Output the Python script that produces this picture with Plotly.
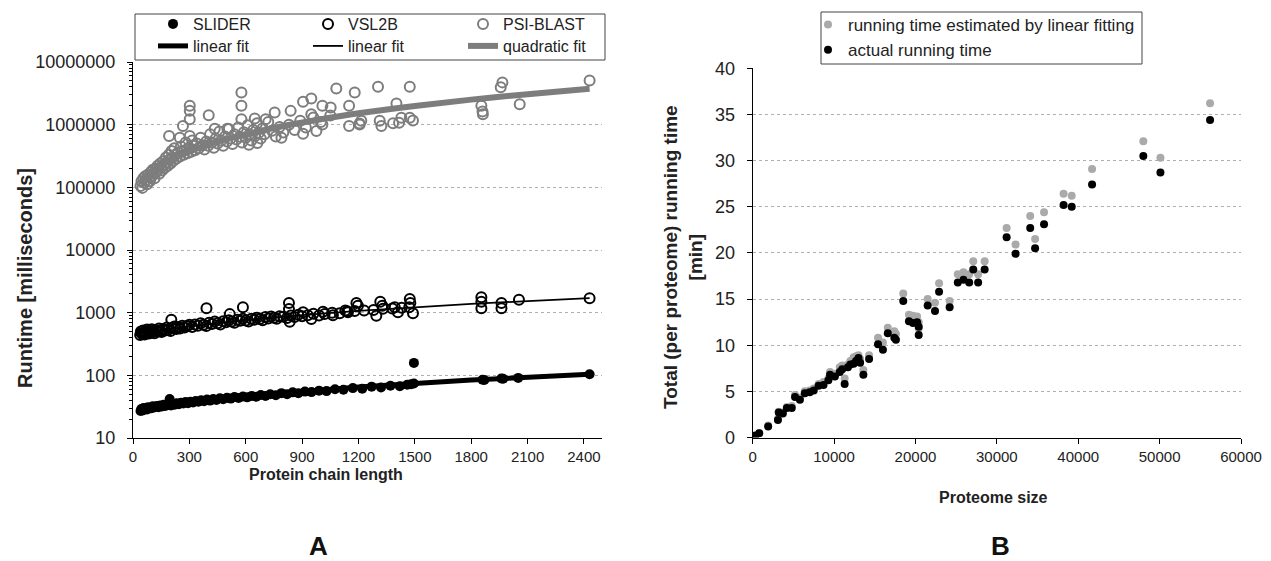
import plotly.graph_objects as go

# ---------------- Panel A data (protein chain length vs runtime in ms) ----------------
slider_pts = [(40,27),(44,29),(48,28),(52,27.5),(56,30),(60,28.5),(65,29),(70,30),(75,28.6),(80,31),
              (86,29.5),(92,30.5),(98,29.8),(105,32),(112,30.6),(120,31.5),(128,32.5),(136,31),(145,33),
              (154,31.8),(163,34),(172,32.5),(182,33.5),(192,34.5),(195,42),(202,33),(212,35),(222,34),
              (233,36),(244,34.5),(256,36.5),(268,35.5),(280,37.5),(293,36),(306,38),(320,37),(334,39),
              (348,37.8),(363,40),(378,38.5),(394,41),(410,39.5),(427,42),(444,40.5),(462,43),(480,41.5),
              (500,44),(520,42.5),(540,45),(562,43.5),(585,46),(608,44.5),(632,47),(656,45.5),(680,48.5),
              (705,47),(730,50),(760,48),(790,52),(820,50),(850,53.5),(880,52),(915,55),(950,54),(990,57),
              (1030,56),(1075,60),(1120,59),(1170,62.5),(1220,61),(1270,66),(1320,64),(1370,68),(1420,67),
              (1460,71),(1480,72),(1495,74),(1495,158),(1860,85),(1870,84),(1960,89),(1970,88),(2050,91),
              (2430,104)]

vsl2b_pts = [(38,440),(42,500),(46,470),(50,455),(54,520),(58,480),(62,450),(66,505),(70,470),(75,540),
             (80,490),(85,465),(90,515),(95,480),(100,545),(108,500),(115,470),(122,530),(130,505),(138,560),
             (145,510),(152,490),(160,550),(170,520),(180,580),(190,540),(200,510),(204,769),(210,570),
             (220,600),(230,550),(240,590),(250,560),(262,620),(275,580),(288,610),(300,640),(315,590),
             (330,650),(345,620),(360,680),(375,640),(390,610),(391,1172),(405,690),(420,660),(435,720),
             (450,680),(465,650),(480,730),(495,700),(510,760),(515,948),(525,720),(540,690),(555,770),
             (570,740),(585,800),(585,1217),(600,750),(615,720),(630,800),(645,770),(660,830),(675,790),
             (690,760),(705,850),(720,810),(735,870),(750,830),(765,800),(780,880),(800,860),(820,820),
             (830,1427),(830,1143),(834,714),(840,900),(860,850),(880,930),(900,880),(905,1012),(930,910),
             (949,789),(960,960),(990,900),(1011,1030),(1020,950),(1060,1000),(1064,912),(1100,980),
             (1130,1080),(1140,1050),(1144,1012),(1180,1060),(1189,1427),(1197,1291),(1230,1080),
             (1280,1100),(1295,891),(1316,1497),(1327,1291),(1330,1150),(1380,1170),(1393,1217),
             (1410,1012),(1430,1200),(1470,1220),(1473,1656),(1476,1427),(1490,975),(1854,1762),
             (1854,1497),(1854,1172),(1961,1427),(1961,1172),(2054,1611),(2430,1698)]

psiblast_pts = [(40,105000),(45,125000),(50,98000),(55,140000),(60,118000),(65,150000),(70,130000),
                (75,112000),(80,160000),(85,142000),(90,125000),(95,175000),(100,150000),(105,190000),
                (110,165000),(115,140000),(120,200000),(125,178000),(130,220000),(135,190000),(140,165000),
                (145,240000),(150,210000),(155,185000),(160,260000),(165,230000),(170,205000),(175,300000),
                (180,250000),(185,220000),(190,330000),(192,660000),(195,280000),(200,240000),(205,380000),
                (210,300000),(215,265000),(220,420000),(225,330000),(230,285000),(240,360000),(249,617000),
                (250,310000),(255,450000),(260,380000),(266,950000),(270,330000),(280,520000),(285,400000),
                (290,350000),(300,430000),(302,2000000),(302,1660000),(302,1220000),(302,660000),
                (310,370000),(315,560000),(320,460000),(330,390000),(340,500000),(350,420000),(360,620000),
                (370,470000),(380,400000),(390,540000),(400,460000),(403,1410000),(410,700000),(420,520000),
                (430,430000),(435,863000),(440,600000),(450,500000),(460,780000),(470,560000),(480,460000),
                (490,650000),(500,540000),(502,863000),(510,850000),(520,600000),(530,490000),(540,700000),
                (550,580000),(560,900000),(570,640000),(577,3270000),(577,2000000),(577,1220000),
                (580,520000),(590,760000),(600,620000),(610,980000),(617,480000),(620,700000),(630,560000),
                (640,820000),(648,1250000),(650,660000),(660,1050000),(662,510000),(670,740000),
                (680,600000),(690,880000),(700,700000),(706,1220000),(720,1100000),(740,800000),
                (754,1560000),(760,650000),(780,920000),(790,617000),(800,750000),(830,1000000),
                (839,1660000),(860,820000),(890,1150000),(905,2320000),(905,716000),(920,900000),
                (949,2620000),(949,1470000),(960,1300000),(976,794000),(1000,1100000),(1008,2000000),
                (1008,1010000),(1050,1400000),(1052,1880000),(1082,3790000),(1150,2000000),(1150,950000),
                (1180,3270000),(1206,1010000),(1206,1040000),(1215,1150000),(1304,4040000),(1313,1150000),
                (1322,950000),(1384,1050000),(1402,2180000),(1416,1070000),(1428,1290000),(1473,4040000),
                (1473,1290000),(1490,1170000),(1854,2000000),(1860,1620000),(1862,1470000),(1957,3940000),
                (1966,4730000),(2058,2120000),(2430,5050000)]

# fitted trend lines
slider_fit_x = [40, 600, 1200, 1800, 2430]
slider_fit_y = [28.3, 46.0, 64.9, 83.9, 103.8]
vsl2b_fit_x = [40, 300, 600, 900, 1200, 1500, 1800, 2100, 2430]
vsl2b_fit_y = [471, 605, 759, 914, 1068, 1223, 1377, 1532, 1701]
psi_fit_x = [40, 150, 300, 450, 600, 800, 1000, 1200, 1500, 1800, 2100, 2430]
psi_fit_y = [116000, 221000, 372000, 536000, 700000, 950000, 1220000, 1520000, 1990000, 2510000, 3070000, 3740000]

a_xticks = [0, 300, 600, 900, 1200, 1500, 1800, 2100, 2400]
a_yticks = [10, 100, 1000, 10000, 100000, 1000000, 10000000]
a_yticklabels = ["10", "100", "1000", "10000", "100000", "1000000", "10000000"]

# ---------------- Panel B data (proteome size vs total running time in min) ----------------
proteome_size = [300, 800, 1900, 3100, 3200, 3700, 4200, 4800, 5200, 5800, 6400, 7000, 7500, 8100, 8700,
                 9300, 9500, 10100, 10700, 11000, 11300, 11700, 12000, 12400, 12700, 13000, 13200, 13600,
                 14300, 15400, 16000, 16600, 17400, 17600, 18500, 19200, 19700, 20200, 20400, 20400, 21500,
                 22400, 22900, 24200, 25200, 25900, 26600, 27100, 27700, 28500, 31200, 32300, 34100, 34700,
                 35800, 38200, 39200, 41700, 48000, 50100, 56200]
estimated_time = [0.25, 0.5, 1.3, 2.0, 2.8, 2.7, 3.3, 3.4, 4.6, 4.3, 5.0, 5.1, 5.3, 5.8, 6.0,
                  6.4, 7.1, 6.9, 7.6, 7.8, 6.4, 7.9, 8.3, 8.7, 8.8, 8.9, 8.5, 7.3,
                  8.9, 10.8, 10.3, 11.9, 11.5, 11.2, 15.6, 13.3, 13.2, 13.1, 12.5, 11.8, 15.0,
                  14.6, 16.7, 14.8, 17.7, 17.9, 17.7, 19.1, 17.7, 19.1, 22.7, 20.9, 24.0, 21.5,
                  24.4, 26.4, 26.2, 29.1, 32.1, 30.3, 36.2]
actual_time = [0.2, 0.45, 1.2, 1.9, 2.7, 2.6, 3.2, 3.2, 4.4, 4.1, 4.8, 4.9, 5.1, 5.6, 5.7,
               6.2, 6.8, 6.6, 7.1, 7.4, 5.8, 7.6, 7.9, 8.0, 8.3, 8.6, 8.1, 6.8,
               8.5, 10.1, 9.5, 11.3, 10.8, 10.6, 14.8, 12.6, 12.4, 12.5, 12.0, 11.1, 14.3,
               13.7, 15.8, 14.1, 16.8, 17.1, 16.8, 18.2, 16.8, 18.2, 21.7, 19.9, 22.7, 20.5,
               23.1, 25.2, 25.0, 27.4, 30.5, 28.7, 34.4]

b_xticks = [0, 10000, 20000, 30000, 40000, 50000, 60000]
b_yticks = [0, 5, 10, 15, 20, 25, 30, 35, 40]

# ---------------- layout helpers ----------------
W, H = 1271, 561
def fx(p):
    return p / W
def fy(p):
    return 1 - p / H

FONT = "Liberation Sans, Arial, sans-serif"
PSI_GRAY = "#7d7d7d"
EST_GRAY = "#aaaaaa"
TXT = "#222222"

fig = go.Figure()

# Panel A scatter
fig.add_trace(go.Scatter(x=[p[0] for p in psiblast_pts], y=[p[1] for p in psiblast_pts], mode="markers",
                         name="PSI-BLAST", legend="legend", legendrank=3,
                         marker=dict(symbol="circle-open", size=10, color=PSI_GRAY, line=dict(width=2, color=PSI_GRAY)),
                         xaxis="x", yaxis="y"))
fig.add_trace(go.Scatter(x=psi_fit_x, y=psi_fit_y, mode="lines", name="quadratic fit", line_shape="spline",
                         legend="legend2", legendrank=3,
                         line=dict(color=PSI_GRAY, width=6), xaxis="x", yaxis="y"))
fig.add_trace(go.Scatter(x=[p[0] for p in vsl2b_pts], y=[p[1] for p in vsl2b_pts], mode="markers",
                         name="VSL2B", legend="legend", legendrank=2,
                         marker=dict(symbol="circle-open", size=10, color="black", line=dict(width=2, color="black")),
                         xaxis="x", yaxis="y"))
fig.add_trace(go.Scatter(x=vsl2b_fit_x, y=vsl2b_fit_y, mode="lines", name="linear fit",
                         legend="legend2", legendrank=2,
                         line=dict(color="black", width=1.8), xaxis="x", yaxis="y"))
fig.add_trace(go.Scatter(x=[p[0] for p in slider_pts], y=[p[1] for p in slider_pts], mode="markers",
                         name="SLIDER", legend="legend", legendrank=1,
                         marker=dict(symbol="circle", size=10, color="black"),
                         xaxis="x", yaxis="y"))
fig.add_trace(go.Scatter(x=slider_fit_x, y=slider_fit_y, mode="lines", name="linear fit",
                         legend="legend2", legendrank=1,
                         line=dict(color="black", width=5), xaxis="x", yaxis="y"))

# Panel B scatter
fig.add_trace(go.Scatter(x=proteome_size, y=estimated_time, mode="markers",
                         name="running time estimated by linear fitting", legend="legend3", legendrank=1,
                         marker=dict(symbol="circle", size=8, color=EST_GRAY), xaxis="x2", yaxis="y2"))
fig.add_trace(go.Scatter(x=proteome_size, y=actual_time, mode="markers",
                         name="actual running time", legend="legend3", legendrank=2,
                         marker=dict(symbol="circle", size=8, color="black"), xaxis="x2", yaxis="y2"))

xtickfont = dict(family=FONT, size=15, color=TXT)
ytickfont = dict(family=FONT, size=18, color=TXT)
common_axis = dict(showline=True, linecolor="black", linewidth=1, ticks="outside", ticklen=5,
                   tickcolor="black", zeroline=False, automargin=False)

fig.update_layout(
    width=W, height=H, margin=dict(l=0, r=0, t=0, b=0, autoexpand=False),
    paper_bgcolor="white", plot_bgcolor="white",
    font=dict(family=FONT, size=16, color=TXT),
    xaxis=dict(domain=[fx(133), fx(602)], range=[0, 2496], tickvals=a_xticks, showgrid=False,
               anchor="y", tickfont=xtickfont, **common_axis),
    yaxis=dict(domain=[fy(438), fy(62)], type="log", range=[1, 7], tickvals=a_yticks,
               ticktext=a_yticklabels, showgrid=True, gridcolor="#b0b0b0", griddash="dot", gridwidth=1,
               minor=dict(ticks="outside", ticklen=3, tickcolor="black", dtick="D1", showgrid=False),
               anchor="x", tickfont=ytickfont, ticklabelstandoff=8, **common_axis),
    xaxis2=dict(domain=[fx(752.7), fx(1241)], range=[0, 60000], tickvals=b_xticks, tickformat="d",
                showgrid=False, anchor="y2", tickfont=xtickfont, **common_axis),
    yaxis2=dict(domain=[fy(437.5), fy(68.3)], range=[0, 40], tickvals=b_yticks, showgrid=True,
                gridcolor="#b0b0b0", griddash="dot", gridwidth=1, anchor="x2", tickfont=ytickfont,
                ticklabelstandoff=8, **common_axis),
    legend=dict(orientation="h", x=fx(153), y=fy(7), xanchor="left", yanchor="top",
                entrywidth=110, entrywidthmode="pixels", bgcolor="rgba(0,0,0,0)",
                font=dict(family=FONT, size=16, color=TXT), itemclick=False),
    legend2=dict(orientation="h", x=fx(153), y=fy(29), xanchor="left", yanchor="top",
                 entrywidth=110, entrywidthmode="pixels", bgcolor="rgba(0,0,0,0)",
                 font=dict(family=FONT, size=16, color=TXT), itemclick=False),
    legend3=dict(orientation="v", x=fx(808), y=fy(7), xanchor="left", yanchor="top",
                 bgcolor="rgba(0,0,0,0)", borderwidth=0, tracegroupgap=0,
                 font=dict(family=FONT, size=17, color=TXT), itemclick=False),
    shapes=[dict(type="rect", xref="paper", yref="paper", x0=fx(135), x1=fx(605), y0=fy(60), y1=fy(14),
                 line=dict(color="#444444", width=1)),
            dict(type="rect", xref="paper", yref="paper", x0=fx(821), x1=fx(1142), y0=fy(64), y1=fy(12),
                 line=dict(color="#444444", width=1))],
    annotations=[
        dict(text="<b>Runtime [milliseconds]</b>", textangle=-90, x=fx(25), y=fy(278),
             font=dict(family=FONT, size=20, color=TXT)),
        dict(text="<b>Protein chain length</b>", x=fx(326), y=fy(474),
             font=dict(family=FONT, size=16, color=TXT)),
        dict(text="<b>Total (per proteome) running time<br>[min]</b>", textangle=-90, x=fx(683), y=fy(257),
             font=dict(family=FONT, size=19, color=TXT)),
        dict(text="<b>Proteome size</b>", x=fx(993), y=fy(497),
             font=dict(family=FONT, size=16, color=TXT)),
        dict(text="<b>A</b>", x=fx(318), y=fy(546), font=dict(family=FONT, size=26, color="#111111")),
        dict(text="<b>B</b>", x=fx(1000), y=fy(546), font=dict(family=FONT, size=26, color="#111111")),
    ],
)
fig.update_annotations(xref="paper", yref="paper", showarrow=False, xanchor="center", yanchor="middle")

fig.write_html("out.html")
